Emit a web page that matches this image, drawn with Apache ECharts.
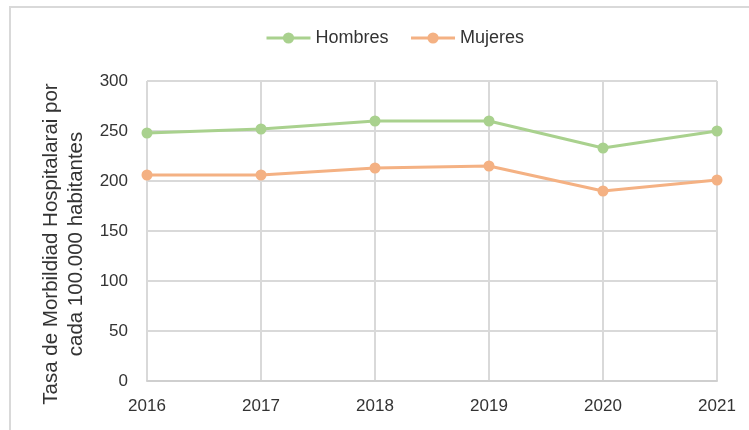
<!DOCTYPE html>
<html>
<head>
<meta charset="utf-8">
<script src="https://cdn.jsdelivr.net/npm/echarts@6/dist/echarts.min.js"></script>
<style>
  html, body { margin: 0; padding: 0; background: #ffffff; }
  #chart { width: 749px; height: 430px; }
</style>
</head>
<body>
<div id="chart"></div>
<script>
const years = ['2016', '2017', '2018', '2019', '2020', '2021'];
const hombres = [248, 252, 260, 260, 233, 250];
const mujeres = [206, 206, 213, 215, 190, 201];
const yTicks = { min: 0, max: 300, interval: 50 };
const seriesNames = ['Hombres', 'Mujeres'];
const yTitle = 'Tasa de Morbildiad Hospitalarai por\ncada 100.000 habitantes';

const green = '#A9D18E';
const orange = '#F4B183';
const gridColor = '#d9d9d9';
const textColor = '#333333';
const font = 'Liberation Sans, Arial, sans-serif';

const chart = echarts.init(document.getElementById('chart'), null, { renderer: 'canvas' });
chart.setOption({
  animation: false,
  backgroundColor: '#ffffff',
  graphic: [{
    type: 'rect',
    shape: { x: 10, y: 7, width: 900, height: 600 },
    style: { fill: 'none', stroke: gridColor, lineWidth: 2 },
    silent: true
  }],
  legend: {
    top: 24,
    left: 260,
    itemWidth: 44,
    itemHeight: 14,
    itemGap: 21,
    lineStyle: { width: 3 },
    textStyle: { fontFamily: font, fontSize: 18, color: textColor },
    data: seriesNames
  },
  grid: { left: 147, right: 32, top: 81, bottom: 49, containLabel: false },
  xAxis: {
    type: 'category',
    data: years,
    boundaryGap: false,
    axisLine: { show: true, lineStyle: { color: '#cfcfcf', width: 2 } },
    axisTick: { show: false },
    axisLabel: { fontFamily: font, fontSize: 17, color: textColor, margin: 17 },
    splitLine: { show: true, lineStyle: { color: gridColor, width: 2 } }
  },
  yAxis: {
    type: 'value',
    min: yTicks.min,
    max: yTicks.max,
    interval: yTicks.interval,
    axisLine: { show: false },
    axisTick: { show: false },
    axisLabel: { fontFamily: font, fontSize: 17, color: textColor, margin: 19 },
    splitLine: { show: true, lineStyle: { color: gridColor, width: 2 } },
    name: yTitle,
    nameLocation: 'middle',
    nameGap: 54,
    nameTextStyle: { fontFamily: font, fontSize: 20.5, color: textColor, lineHeight: 25, padding: [0, 26, 0, 0] }
  },
  series: [
    {
      name: seriesNames[0],
      type: 'line',
      data: hombres,
      symbol: 'circle',
      symbolSize: 11,
      lineStyle: { color: green, width: 3 },
      itemStyle: { color: green }
    },
    {
      name: seriesNames[1],
      type: 'line',
      data: mujeres,
      symbol: 'circle',
      symbolSize: 11,
      lineStyle: { color: orange, width: 3 },
      itemStyle: { color: orange }
    }
  ]
});
</script>
</body>
</html>
